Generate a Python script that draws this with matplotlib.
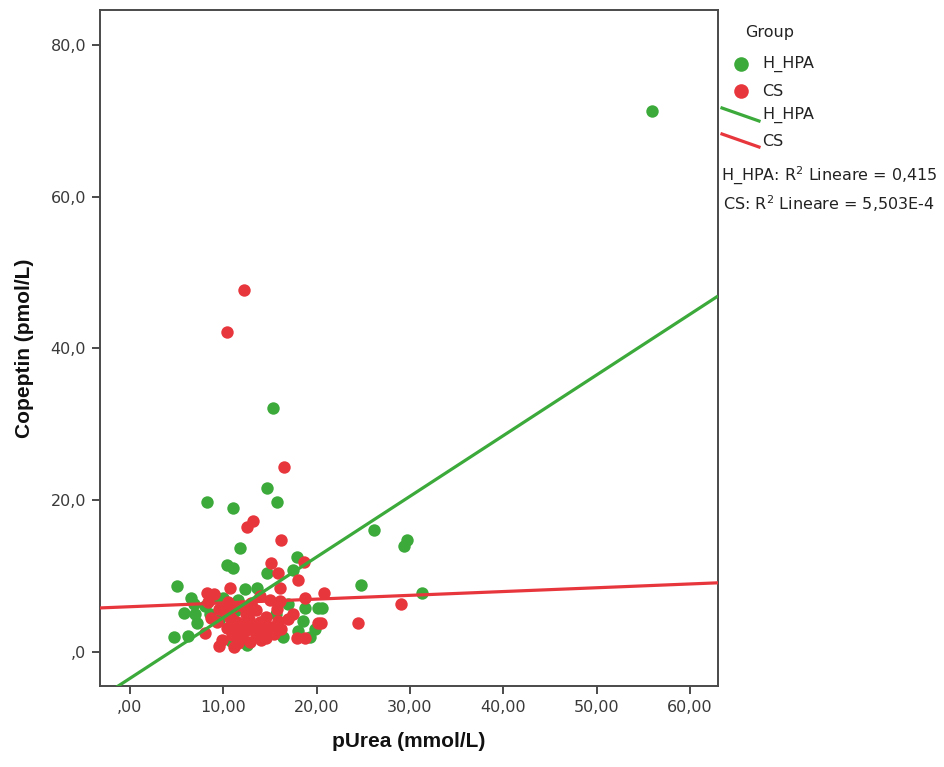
#!/usr/bin/env python3
"""Copeptin vs pUrea scatter with per-group linear fit lines (SPSS style)."""

import matplotlib

matplotlib.use("Agg")
import matplotlib.pyplot as plt
from matplotlib.lines import Line2D
from matplotlib.ticker import FuncFormatter

# H_HPA group (pUrea mmol/L, copeptin pmol/L)
HPA_UREA = [55.9, 15.3, 26.2, 29.4, 29.7, 31.3, 24.8, 8.3, 11.1, 14.7, 15.8, 11.8,
            10.4, 11.1, 17.9, 14.7, 5.0, 6.5, 5.8, 7.0, 7.2, 9.1, 10.0, 8.6,
            4.7, 6.2, 11.3, 12.3, 13.6, 18.8, 20.1, 18.5, 19.8, 16.4, 18.0, 12.5,
            15.7, 20.6, 17.5, 8.0, 9.5, 13.0, 14.0, 16.9, 10.8, 14.9, 19.3, 6.9,
            11.6]
HPA_COPEPTIN = [71.3, 32.2, 16.0, 13.9, 14.8, 7.8, 8.8, 19.8, 19.0, 21.6, 19.8, 13.7,
                11.5, 11.0, 12.5, 10.4, 8.7, 7.1, 5.1, 5.0, 3.8, 7.4, 7.1, 5.0,
                1.9, 2.1, 5.4, 8.3, 8.4, 5.8, 5.8, 4.1, 3.0, 1.9, 2.8, 0.9,
                5.0, 5.8, 10.8, 6.0, 4.2, 6.2, 3.8, 6.3, 1.4, 2.6, 2.0, 6.3,
                6.9]

# CS group
CS_UREA = [12.2, 10.4, 16.5, 13.2, 12.5, 16.2, 15.1, 15.9, 18.6, 18.0, 29.0, 24.4,
           20.8, 20.5, 10.7, 8.3, 9.0, 8.4, 8.0, 9.6, 9.9, 10.4, 11.3, 12.0,
           12.0, 18.8, 16.1, 17.5, 20.2, 18.8, 17.9, 10.2, 10.8, 11.5, 12.4, 12.8,
           13.2, 13.6, 14.2, 14.6, 15.1, 15.4, 15.9, 14.0, 12.9, 11.6, 10.9, 12.3,
           13.5, 14.6, 16.2, 11.0, 9.3, 13.0, 15.8, 12.0, 16.9, 13.9, 11.9, 10.5,
           15.0, 16.1, 13.9, 9.5, 8.7, 10.7, 12.9, 11.2, 13.4, 14.4, 12.6]
CS_COPEPTIN = [47.7, 42.2, 24.3, 17.2, 16.4, 14.8, 11.7, 10.4, 11.9, 9.5, 6.3, 3.8,
               7.7, 3.8, 8.4, 7.8, 7.6, 6.6, 2.5, 0.8, 1.5, 3.2, 2.8, 3.7,
               1.8, 7.1, 6.7, 5.0, 3.8, 1.8, 1.8, 5.2, 4.4, 4.0, 5.0, 4.3,
               3.1, 2.2, 3.6, 4.6, 3.3, 2.3, 4.1, 1.5, 1.3, 1.2, 2.2, 2.7,
               5.5, 1.8, 3.0, 5.9, 3.9, 6.4, 5.6, 6.0, 4.3, 4.0, 3.3, 6.6,
               6.8, 8.4, 7.4, 5.6, 4.5, 4.5, 6.3, 0.6, 2.6, 2.9, 3.5]

# fitted lines as shown in the chart: (intercept, slope)
HPA_FIT = (-3.5, 0.80)
CS_FIT = (5.95, 0.050)
R2_TEXT = ["H_HPA: R$^2$ Lineare = 0,415", "CS: R$^2$ Lineare = 5,503E-4"]

X_TICKS = [0, 10, 20, 30, 40, 50, 60]
Y_TICKS = [0, 20, 40, 60, 80]

GREEN = "#3BAA3B"
RED = "#E8363D"
FRAME = "#4A4A4A"


def spss_fmt(decimals):
    def fmt(v, _pos):
        s = f"{v:.{decimals}f}".replace(".", ",")
        if s.startswith("0,"):
            s = s[1:]
        return s
    return FuncFormatter(fmt)


W, H = 944, 767
fig = plt.figure(figsize=(W / 100, H / 100), dpi=100)
ax = fig.add_axes([100 / W, 1 - 686 / H, 618 / W, 676 / H])

ax.scatter(HPA_UREA, HPA_COPEPTIN, s=80, color=GREEN, linewidths=0, zorder=2)
ax.scatter(CS_UREA, CS_COPEPTIN, s=80, color=RED, linewidths=0, zorder=2)

xmin, xmax = -3.2, 63.0
ymin, ymax = -4.5, 84.6
for (b0, b1), color in ((CS_FIT, RED), (HPA_FIT, GREEN)):
    ax.plot([xmin, xmax], [b0 + b1 * xmin, b0 + b1 * xmax], color=color,
            linewidth=2.3, zorder=3, solid_capstyle="butt")

ax.set_xlim(xmin, xmax)
ax.set_ylim(ymin, ymax)
ax.set_xticks(X_TICKS)
ax.set_yticks(Y_TICKS)
ax.xaxis.set_major_formatter(spss_fmt(2))
ax.yaxis.set_major_formatter(spss_fmt(1))
ax.tick_params(direction="out", length=6, width=1.4, color=FRAME,
               labelsize=11.5, labelcolor="#3A3A3A", pad=4)
for spine in ax.spines.values():
    spine.set_color(FRAME)
    spine.set_linewidth(1.4)

label_font = dict(family=["Liberation Sans Narrow", "Liberation Sans"],
                  fontsize=15, fontweight="bold", color="#111111")
ax.set_xlabel("pUrea (mmol/L)", labelpad=12, **label_font)
ax.set_ylabel("Copeptin (pmol/L)", labelpad=12, **label_font)


# legend drawn by hand, SPSS layout
def fx(px):
    return px / W


def fy(py):
    return 1 - py / H


leg_font = dict(family="DejaVu Sans", fontsize=11.5, color="#222222")
fig.text(fx(745), fy(32), "Group", va="center", ha="left", **leg_font)
for py, color, name in ((64, GREEN, "H_HPA"), (91, RED, "CS")):
    fig.add_artist(Line2D([fx(741)], [fy(py)], marker="o", markersize=10.5,
                          color=color, markeredgewidth=0, linestyle="none",
                          transform=fig.transFigure))
    fig.text(fx(762), fy(py), name, va="center", ha="left", **leg_font)
for py, color, name in ((115, GREEN, "H_HPA"), (141, RED, "CS")):
    fig.add_artist(Line2D([fx(722), fx(759)], [fy(py - 7), fy(py + 6)],
                          color=color, linewidth=2.3,
                          transform=fig.transFigure))
    fig.text(fx(762), fy(py), name, va="center", ha="left", **leg_font)
for py, text in ((176, R2_TEXT[0]), (204, R2_TEXT[1])):
    fig.text(fx(829), fy(py), text, va="center", ha="center", **leg_font)

fig.savefig("out.png", dpi=100)
